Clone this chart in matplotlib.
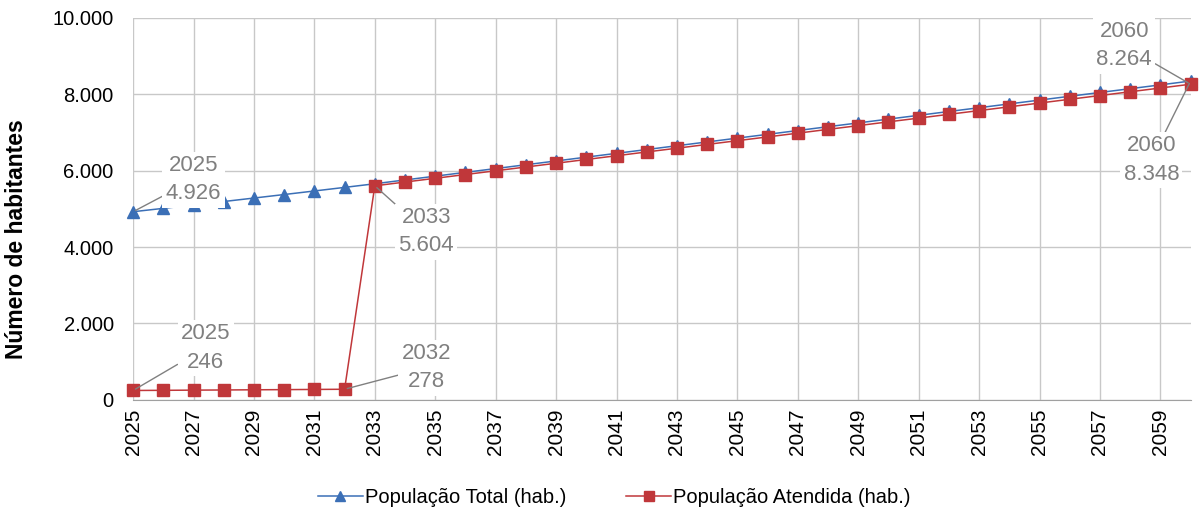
import matplotlib
import matplotlib.pyplot as plt
from matplotlib.ticker import FuncFormatter

plt.rcParams['font.family'] = ['Liberation Sans', 'DejaVu Sans']

anos = list(range(2025, 2061))
pop_total = [4926, 5014, 5103, 5193, 5284, 5376, 5469, 5563, 5658,
             5758, 5857, 5957, 6056, 6156, 6255, 6355, 6455, 6554,
             6654, 6753, 6853, 6952, 7052, 7152, 7251, 7351, 7450,
             7550, 7649, 7749, 7849, 7948, 8048, 8147, 8247, 8348]
pop_atendida = [246, 250, 255, 259, 264, 268, 273, 278, 5604,
                5703, 5801, 5900, 5998, 6097, 6195, 6294, 6392, 6491,
                6589, 6688, 6786, 6885, 6983, 7082, 7180, 7279, 7377,
                7476, 7574, 7673, 7771, 7870, 7968, 8067, 8165, 8264]

azul = '#3b6fb6'
vermelho = '#c0373a'
cinza = '#808080'

fig = plt.figure(figsize=(11.99, 5.12), dpi=100)
ax = fig.add_axes([0.111, 0.219, 0.882, 0.746])

ax.plot(anos, pop_total, color=azul, lw=1.1, marker='^', ms=8,
        label='População Total (hab.)', clip_on=False, zorder=3)
ax.plot(anos, pop_atendida, color=vermelho, lw=1.1, marker='s', ms=8,
        label='População Atendida (hab.)', clip_on=False, zorder=4)

ax.set_xlim(2025, 2060)
ax.set_ylim(0, 10000)
ax.set_xticks(range(2025, 2060, 2))
ax.set_xticklabels([str(a) for a in range(2025, 2060, 2)], rotation=90, fontsize=15)
ax.set_yticks(range(0, 10001, 2000))
ax.yaxis.set_major_formatter(FuncFormatter(lambda v, p: f'{int(v):,}'.replace(',', '.')))
ax.tick_params(axis='y', labelsize=14.5, length=0, pad=14)
ax.tick_params(axis='x', length=0, pad=6)
ax.grid(True, color='#c8c8c8', lw=1)
ax.set_axisbelow(True)
for s in ['top', 'right', 'left']:
    ax.spines[s].set_visible(False)
ax.spines['bottom'].set_color('#a0a0a0')
ax.set_ylabel('Número de habitantes', fontsize=16.5, fontweight='bold')
ax.yaxis.set_label_coords(-0.099, 0.42)

# rotulos de dados: (ano, valor, texto, posicao do texto)
rotulos = [
    (2025, pop_total[0], '2025\n4.926', (2027.0, 5760)),
    (2025, pop_atendida[0], '2025\n246', (2027.4, 1360)),
    (2032, pop_atendida[7], '2032\n278', (2034.7, 840)),
    (2033, pop_atendida[8], '2033\n5.604', (2034.7, 4400)),
    (2060, pop_atendida[-1], '2060\n8.264', (2057.8, 9270)),
    (2060, pop_total[-1], '2060\n8.348', (2058.7, 6280)),
]
for ano, val, txt, pos in rotulos:
    ax.annotate(txt, xy=(ano, val), xytext=pos, ha='center', va='center',
                fontsize=16, color=cinza, linespacing=1.45,
                bbox=dict(boxstyle='square,pad=0.15', fc='white', ec='none'),
                arrowprops=dict(arrowstyle='-', color=cinza, lw=1, shrinkA=0, shrinkB=2),
                annotation_clip=False, zorder=5)

ax.legend(loc='center', bbox_to_anchor=(0.455, -0.255), ncol=2, frameon=False,
          fontsize=14.5, markerscale=0.85, handlelength=2.2, handletextpad=0.1,
          columnspacing=3)

plt.savefig('out.png', dpi=100)
